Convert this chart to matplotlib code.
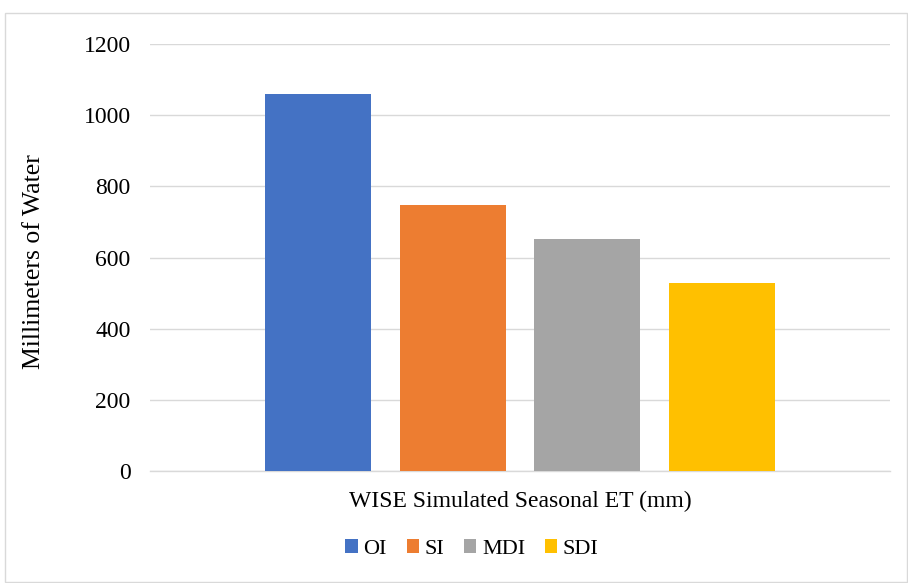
import matplotlib.pyplot as plt
from matplotlib.patches import Rectangle

series = ["OI", "SI", "MDI", "SDI"]
values = [1060, 748, 652, 528]
colors = ["#4472C4", "#ED7D31", "#A5A5A5", "#FFC000"]
category = "WISE Simulated Seasonal ET (mm)"
yticks = [0, 200, 400, 600, 800, 1000, 1200]

plt.rcParams["font.family"] = ["Liberation Serif", "DejaVu Serif"]

fig = plt.figure(figsize=(9.08, 5.83), dpi=100)
ax = fig.add_axes([150 / 908, 1 - 471 / 583, 740 / 908, 427 / 583])

spacing = 0.182
width = 0.143
offsets = [(i - 1.5) * spacing for i in range(len(series))]
for off, v, c, name in zip(offsets, values, colors, series):
    ax.bar(off, v, width=width, color=c, label=name, zorder=3)

ax.set_xlim(-0.5, 0.5)
ax.set_ylim(0, 1200)
ax.set_yticks(yticks)
ax.set_yticklabels([str(t) for t in yticks], fontsize=17)
ax.yaxis.grid(True, color="#D9D9D9", linewidth=1.0, zorder=0)
ax.tick_params(axis="y", length=0, pad=14)
ax.set_xticks([])
for s in ["top", "right", "left"]:
    ax.spines[s].set_visible(False)
ax.spines["bottom"].set_color("#D9D9D9")
ax.spines["bottom"].set_linewidth(1.0)

ax.set_ylabel("Millimeters of Water", fontsize=18.5)
ax.yaxis.set_label_coords(-0.142, 0.49)
ax.set_xlabel(category, fontsize=17, labelpad=14)

leg = fig.legend(loc="center", bbox_to_anchor=(472 / 908, 1 - 549 / 583), ncol=4,
                 frameon=False, fontsize=16, handlelength=0.55, handleheight=0.55,
                 handletextpad=0.25, columnspacing=0.9)

# outer chart border
fig.patches.append(Rectangle((5 / 908, 1 / 583), 902 / 908, 569 / 583,
                             transform=fig.transFigure, fill=False,
                             edgecolor="#D9D9D9", linewidth=1.0))

fig.savefig("out.png", dpi=100)
